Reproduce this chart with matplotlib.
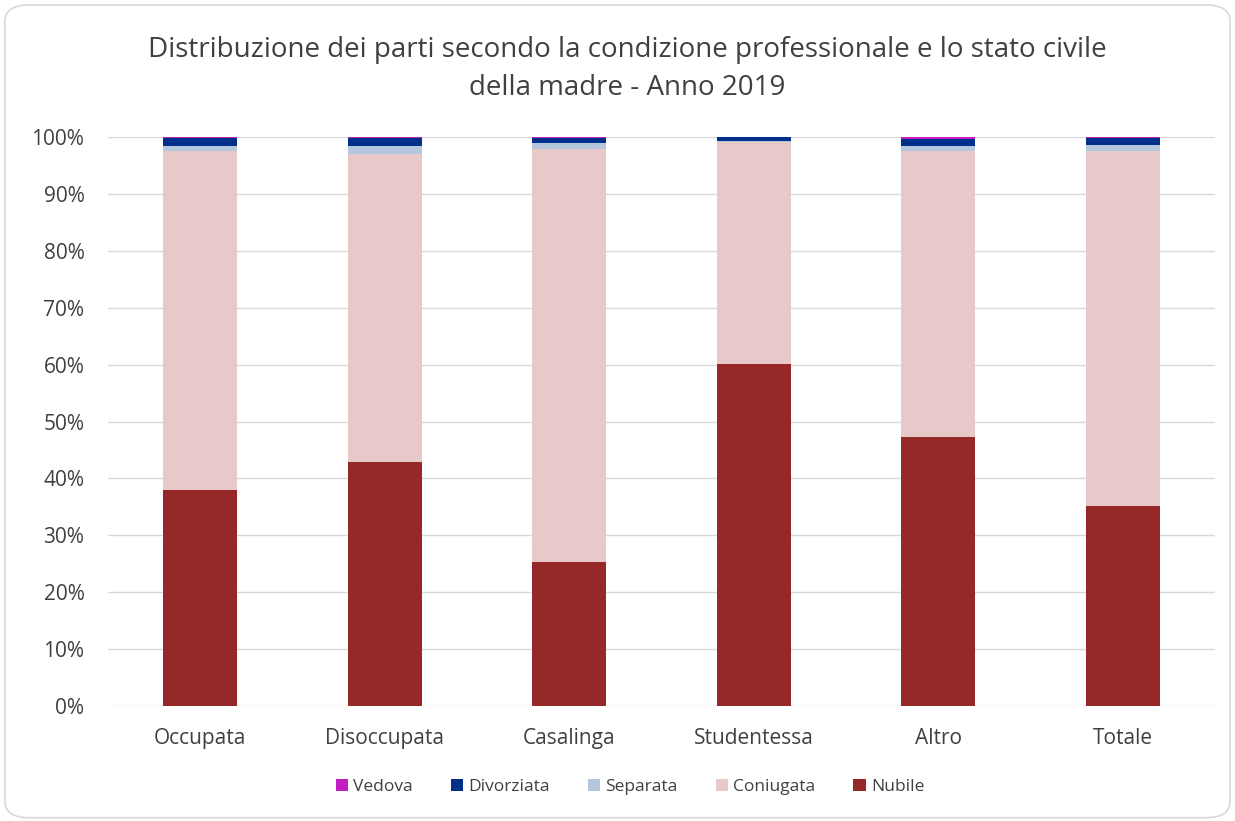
import numpy as np
import matplotlib.pyplot as plt
from matplotlib.patches import FancyBboxPatch

plt.rcParams['font.family'] = ['Open Sans', 'DejaVu Sans']

categories = ["Occupata", "Disoccupata", "Casalinga", "Studentessa", "Altro", "Totale"]
nubile = [37.9, 42.9, 25.3, 60.1, 47.3, 35.1]
separata = [0.9, 1.4, 1.1, 0.2, 0.9, 1.0]
divorziata = [1.5, 1.4, 0.9, 0.6, 1.3, 1.3]
vedova = [0.1, 0.1, 0.1, 0.05, 0.3, 0.1]
coniugata = [100 - n - s - d - v for n, s, d, v in zip(nubile, separata, divorziata, vedova)]

series = [
    ("Nubile", nubile, "#962828"),
    ("Coniugata", coniugata, "#E8C9C9"),
    ("Separata", separata, "#B4C7DC"),
    ("Divorziata", divorziata, "#00308A"),
    ("Vedova", vedova, "#C21EC2"),
]

fig = plt.figure(figsize=(12.35, 8.21), dpi=100)
fig.patches.append(FancyBboxPatch((0.004, 0.004), 0.992, 0.99, boxstyle="round,pad=0,rounding_size=0.02",
                                  transform=fig.transFigure, facecolor="white", edgecolor="#D9D9D9",
                                  linewidth=1.2, zorder=-5))
ax = fig.add_axes([108 / 1235, 1 - 706 / 821, 1107 / 1235, 569 / 821])

x = np.arange(len(categories))
bottom = np.zeros(len(categories))
handles = {}
for name, vals, col in series:
    handles[name] = ax.bar(x, vals, 0.4, bottom=bottom, color=col, label=name, zorder=3)
    bottom += np.array(vals)

ax.set_xlim(-0.5, len(categories) - 0.5)
ax.set_ylim(0, 100)
ax.set_yticks(np.arange(0, 101, 10))
ax.set_yticklabels([f"{v}%" for v in range(0, 101, 10)], fontsize=15, color="#404040")
ax.set_xticks(x)
ax.set_xticklabels(categories, fontsize=15, color="#404040")
ax.tick_params(axis="x", length=0, pad=16)
ax.tick_params(axis="y", length=0, pad=17)
ax.grid(axis="y", color="#D9D9D9", linewidth=1, zorder=0)
for s in ax.spines.values():
    s.set_visible(False)
ax.set_facecolor("none")

fig.text(627 / 1235, 1 - 50 / 821, "Distribuzione dei parti secondo la condizione professionale e lo stato civile",
         ha="center", va="center", fontsize=20, color="#404040")
fig.text(627 / 1235, 1 - 88 / 821, "della madre - Anno 2019", ha="center", va="center", fontsize=20, color="#404040")

order = ["Vedova", "Divorziata", "Separata", "Coniugata", "Nubile"]
fig.legend([handles[n] for n in order], order, loc="center", bbox_to_anchor=(630 / 1235, 1 - 787 / 821), ncol=5,
           frameon=False, fontsize=12.5, handlelength=0.7, handleheight=0.7, handletextpad=0.3,
           columnspacing=2.2, labelcolor="#404040")

fig.savefig("out.png", dpi=100)
